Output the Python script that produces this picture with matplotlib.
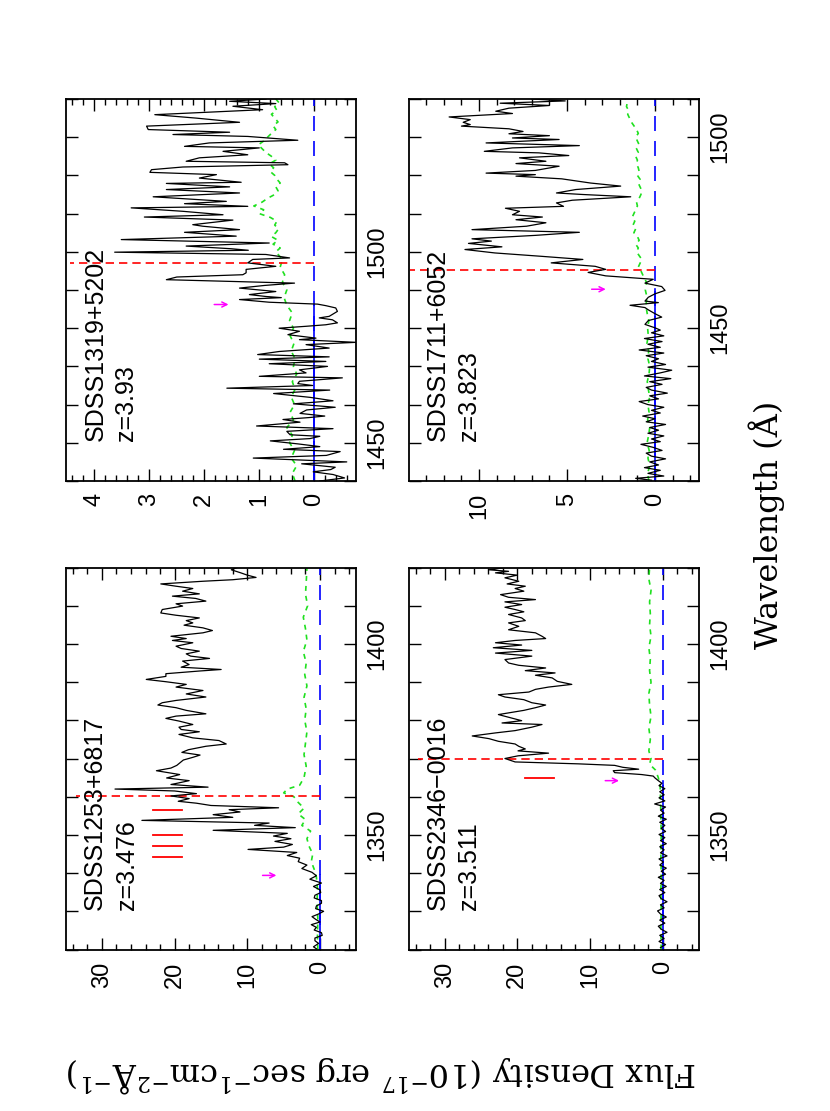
import numpy as np
import matplotlib
matplotlib.use("Agg")
import matplotlib.pyplot as plt
from matplotlib.ticker import MultipleLocator

plt.rcParams['font.family'] = ['Liberation Sans', 'DejaVu Sans']
plt.rcParams['mathtext.fontset'] = 'dejavuserif'

# ---------------- data ----------------
# SDSS1319+5202 (z=3.93)
q1319_wave = [1440.0, 1440.8, 1441.7, 1442.4, 1443.0, 1443.6, 1444.5, 1445.0, 1446.0, 1446.7,
              1447.7, 1448.3, 1449.0, 1449.7, 1450.5, 1451.1, 1451.7, 1452.1, 1453.0, 1453.7,
              1454.4, 1455.4, 1456.1, 1456.6, 1457.0, 1457.7, 1458.6, 1459.3, 1460.2, 1461.0,
              1461.9, 1462.9, 1463.8, 1464.3, 1465.0, 1465.5, 1466.1, 1467.0, 1467.4, 1468.3,
              1469.1, 1470.0, 1470.7, 1471.3, 1471.9, 1472.5, 1473.1, 1473.9, 1474.8, 1475.7,
              1476.3, 1477.0, 1477.4, 1478.3, 1479.2, 1480.0, 1480.5, 1480.9, 1481.4, 1482.2,
              1482.7, 1483.1, 1484.4, 1485.3, 1485.9, 1486.3, 1486.8, 1487.5, 1488.0, 1488.3,
              1488.8, 1489.6, 1490.5, 1491.2, 1491.8, 1492.7, 1493.4, 1494.0, 1494.5, 1495.4,
              1496.2, 1497.1, 1498.0, 1498.4, 1499.3, 1499.9, 1500.4, 1500.8, 1501.5, 1502.3,
              1503.2, 1504.1, 1505.1, 1505.8, 1506.7, 1507.1, 1508.3, 1509.1, 1509.7, 1510.6,
              1511.5, 1511.9, 1512.6, 1513.2, 1514.4, 1515.4, 1516.3, 1517.0, 1517.9, 1518.2,
              1519.3, 1520.2, 1520.8, 1521.5, 1522.2, 1522.8, 1523.3, 1523.7, 1524.6, 1525.4,
              1526.3, 1527.2, 1527.6, 1528.5, 1529.2, 1530.2, 1530.7, 1531.3, 1532.0, 1532.9,
              1533.9, 1535.0, 1535.9, 1537.2, 1538.1, 1538.8, 1539.4, 1540.0]
q1319_flux = [-0.10, -0.55, -0.34, 0.02, -0.30, -0.38, 0.23, -0.59, 1.11, -0.22,
              -0.47, 0.56, -0.10, 0.29, 0.80, 0.08, -0.10, 0.44, 0.50, -0.34,
              1.05, 0.26, 0.57, 0.10, -0.19, 0.26, 0.14, -0.38, 0.38, -0.34,
              0.08, 0.74, -0.28, 1.59, 0.03, 0.30, 0.27, -0.51, 1.00, 0.15,
              0.27, -0.24, 0.82, -0.21, 1.00, -0.27, 1.03, 0.64, -0.27, 0.15,
              -0.76, 0.27, -0.03, 0.48, 0.27, 0.64, 0.15, -0.21, -0.42, -0.33,
              -0.09, -0.27, -0.42, -0.39, -0.21, -0.06, 0.82, 1.36, 0.60, 0.88,
              1.18, 0.70, 1.36, 0.90, 0.36, 2.69, 2.50, 1.30, 1.24, 1.24,
              0.70, 1.21, 1.12, 0.45, 0.88, 3.63, 1.20, 1.51, 2.33, 0.82,
              3.51, 1.42, 2.36, 1.36, 2.03, 2.21, 1.48, 3.09, 1.66, 2.39,
              3.33, 1.21, 2.36, 1.60, 2.93, 1.36, 2.69, 1.54, 2.69, 1.33,
              2.09, 1.78, 2.99, 2.96, 2.39, 0.48, 0.54, 2.33, 2.09, 1.21,
              1.66, 1.00, 2.36, 1.91, 0.30, 1.21, 2.57, 1.54, 3.02, 3.05,
              1.36, 2.15, 2.90, 0.94, 1.48, 0.70, 1.54, 0.88]
q1319_err_wave = [1440, 1442, 1444, 1446, 1448, 1450, 1452, 1454, 1456, 1458, 1460, 1462, 1464,
                  1466, 1468, 1470, 1472, 1474, 1476, 1478, 1480, 1482, 1484, 1486, 1488, 1490,
                  1492, 1494, 1496, 1498, 1500, 1501, 1502, 1503, 1504, 1505, 1506, 1507, 1508,
                  1509, 1510, 1511, 1512, 1513, 1514, 1515, 1516, 1517, 1518, 1519, 1520, 1521,
                  1522, 1523, 1524, 1525, 1526, 1527, 1528, 1529, 1530, 1531, 1532, 1533, 1534,
                  1535, 1536, 1537, 1538, 1539, 1540]
q1319_err = [0.35, 0.40, 0.32, 0.42, 0.36, 0.45, 0.40, 0.50, 0.38, 0.44, 0.36, 0.42, 0.35,
             0.40, 0.32, 0.38, 0.35, 0.42, 0.37, 0.44, 0.38, 0.45, 0.40, 0.50, 0.55, 0.50,
             0.58, 0.54, 0.62, 0.58, 0.70, 0.62, 0.75, 0.66, 0.78, 0.70, 0.65, 0.72, 0.68,
             0.80, 1.00, 0.92, 1.10, 0.95, 0.85, 0.72, 0.66, 0.70, 0.62, 0.68, 0.72, 0.80,
             0.74, 0.82, 0.70, 0.78, 0.88, 0.95, 1.02, 0.92, 0.85, 0.78, 0.70, 0.75, 0.66,
             0.72, 0.78, 0.68, 0.72, 0.64, 0.70]

# SDSS1711+6052 (z=3.823)
q1711_wave = [1410.2, 1410.7, 1411.3, 1412.0, 1412.8, 1413.5, 1414.2, 1415.0, 1415.8, 1416.5,
              1417.3, 1418.0, 1418.8, 1419.6, 1420.3, 1421.0, 1421.8, 1422.5, 1423.3, 1424.0,
              1424.8, 1425.5, 1426.3, 1427.0, 1427.8, 1428.5, 1429.3, 1430.0, 1430.8, 1431.5,
              1432.3, 1433.0, 1433.8, 1434.5, 1435.3, 1436.0, 1436.8, 1437.5, 1438.3, 1439.0,
              1439.8, 1440.5, 1441.3, 1442.0, 1442.8, 1443.5, 1444.3, 1445.0, 1445.8, 1446.5,
              1447.3, 1448.0, 1448.8, 1449.5, 1450.1, 1451.0, 1452.0, 1452.9, 1453.8, 1454.8,
              1455.4, 1456.0, 1456.7, 1457.1, 1458.1, 1459.0, 1459.9, 1460.9, 1461.8, 1462.8,
              1463.7, 1464.6, 1465.4, 1466.2, 1467.1, 1468.0, 1468.8, 1469.7, 1470.6, 1471.3,
              1472.2, 1472.8, 1473.4, 1474.3, 1475.1, 1475.8, 1476.7, 1477.6, 1478.4, 1479.1,
              1479.7, 1480.6, 1481.4, 1481.9, 1482.8, 1483.5, 1484.4, 1485.0, 1485.4, 1486.3,
              1487.2, 1488.0, 1489.1, 1489.8, 1490.2, 1490.6, 1491.3, 1492.4, 1493.1, 1493.7,
              1494.6, 1495.2, 1495.9, 1496.3, 1497.2, 1497.8, 1498.5, 1499.4, 1499.8, 1500.4,
              1500.9, 1501.5, 1502.2, 1502.9, 1503.3, 1503.9, 1504.6, 1505.3, 1506.2, 1506.8,
              1507.6, 1508.3, 1508.9, 1509.5, 1510.0]
q1711_flux = [0.2, 1.1, -0.5, 0.4, -0.3, 0.6, -0.2, 0.3, -0.6, 0.2,
              0.5, -0.4, 0.1, 0.8, -0.3, 0.2, -0.5, 0.4, -0.2, 0.3,
              -0.6, 0.5, 0.0, 0.7, -0.3, 0.2, -0.5, 0.4, 0.9, -0.2,
              0.3, -0.7, 0.2, 0.5, -0.4, 0.3, -0.9, 0.6, -0.3, -0.95,
              0.4, -0.6, 0.2, -0.2, 0.5, -0.5, 0.9, -0.3, 0.4, -0.4,
              0.6, -0.5, 0.2, -0.3, 0.0, 0.57, 0.38, -0.38, 0.0, 0.38,
              0.57, 1.42, -0.19, 0.57, 0.38, 0.0, -0.57, -0.38, 0.57, 0.10,
              2.8, 3.8, 2.8, 3.4, 5.9, 4.1, 6.4, 9.1, 10.8, 8.7,
              10.6, 9.3, 10.4, 6.8, 4.3, 10.4, 7.3, 6.2, 7.9, 6.4,
              8.1, 7.7, 8.5, 5.2, 5.6, 4.7, 1.38, 4.1, 5.6, 4.5,
              1.95, 3.66, 5.3, 7.9, 6.8, 9.6, 6.8, 5.45, 7.9, 6.2,
              7.7, 4.9, 6.6, 9.7, 8.1, 4.3, 9.6, 5.45, 8.1, 6.0,
              8.3, 7.5, 8.3, 11.0, 10.5, 10.9, 10.5, 11.7, 8.1, 9.05,
              8.3, 6.0, 8.8, 5.1, 7.0]
q1711_err_wave = [1410, 1412, 1414, 1416, 1418, 1420, 1422, 1424, 1426, 1428, 1430, 1432, 1434,
                  1436, 1438, 1440, 1442, 1444, 1446, 1448, 1450, 1452, 1454, 1456, 1458, 1460,
                  1462, 1463, 1464, 1465, 1466, 1467, 1468, 1469, 1470, 1471, 1472, 1473, 1474,
                  1475, 1476, 1477, 1478, 1479, 1480, 1481, 1482, 1483, 1484, 1485, 1486, 1487,
                  1488, 1489, 1490, 1491, 1492, 1493, 1494, 1495, 1496, 1497, 1498, 1499, 1500,
                  1501, 1502, 1503, 1504, 1505, 1506, 1507, 1508, 1509, 1510]
q1711_err = [0.35, 0.42, 0.30, 0.40, 0.33, 0.45, 0.36, 0.30, 0.42, 0.34, 0.40, 0.30, 0.38,
             0.44, 0.34, 0.30, 0.40, 0.36, 0.46, 0.38, 0.42, 0.35, 0.45, 0.52, 0.45, 0.55,
             0.48, 0.60, 0.70, 0.80, 0.95, 0.85, 0.75, 0.90, 1.05, 0.95, 1.10, 0.90, 1.00,
             1.20, 1.10, 1.25, 1.15, 1.30, 1.20, 1.10, 1.00, 1.05, 0.90, 0.80, 0.75, 0.85,
             0.95, 0.85, 1.00, 0.90, 0.95, 1.05, 1.00, 1.10, 0.95, 1.05, 0.90, 1.00, 1.10,
             0.95, 1.05, 1.20, 1.35, 1.45, 1.55, 1.50, 1.62, 1.58, 1.68]

# SDSS1253+6817 (z=3.476)
q1253_wave = [1320.2, 1320.7, 1321.6, 1322.3, 1323.0, 1323.7, 1324.4, 1325.1, 1325.8, 1326.5,
              1327.2, 1327.9, 1328.6, 1329.3, 1330.0, 1330.7, 1331.4, 1332.1, 1332.8, 1333.5,
              1334.2, 1334.9, 1335.6, 1336.5, 1337.4, 1338.4, 1339.3, 1340.2, 1341.2, 1342.1,
              1343.0, 1343.9, 1344.6, 1345.4, 1346.2, 1346.8, 1347.5, 1348.3, 1349.0, 1349.7,
              1350.4, 1351.2, 1351.9, 1352.5, 1353.1, 1353.8, 1354.6, 1355.3, 1356.0, 1356.6,
              1357.1, 1357.7, 1358.3, 1358.8, 1359.5, 1360.2, 1360.8, 1361.5, 1362.0, 1362.5,
              1363.2, 1363.5, 1364.2, 1364.9, 1365.8, 1366.8, 1367.5, 1368.2, 1369.6, 1370.3,
              1370.9, 1371.6, 1372.3, 1373.2, 1373.8, 1374.7, 1375.4, 1376.3, 1377.0, 1377.6,
              1378.2, 1378.9, 1379.8, 1380.5, 1381.1, 1381.7, 1382.6, 1383.3, 1384.0, 1384.6,
              1385.2, 1386.1, 1386.9, 1387.8, 1388.7, 1389.4, 1390.1, 1390.7, 1391.5, 1392.2,
              1392.9, 1393.3, 1393.9, 1394.6, 1395.5, 1396.2, 1396.8, 1397.4, 1398.1, 1398.8,
              1399.4, 1400.3, 1400.9, 1401.4, 1402.0, 1402.9, 1403.5, 1404.2, 1404.9, 1405.5,
              1406.1, 1406.8, 1407.5, 1408.1, 1409.0, 1409.9, 1410.5, 1411.2, 1411.9, 1412.5,
              1413.1, 1413.8, 1414.5, 1415.1, 1415.7, 1416.4, 1416.8, 1417.4, 1418.0, 1418.6,
              1419.4, 1419.9]
q1253_flux = [0.5, 0.9, 0.2, 0.7, 0.7, -0.3, -0.2, 0.8, 0.5, 1.2,
              0.0, 0.6, 1.1, 0.2, -0.5, 0.6, 0.5, -0.2, -0.2, 0.8,
              0.7, -0.1, 0.0, 0.9, -0.2, 1.4, 0.5, 1.1, 2.5, 1.8,
              3.0, 2.8, 4.5, 3.2, 9.9, 5.0, 3.8, 6.2, 4.0, 6.4,
              4.5, 14.7, 3.4, 9.0, 7.0, 24.5, 12.0, 14.7, 11.0, 12.5,
              5.7, 15.0, 17.0, 19.5, 18.0, 20.5, 17.0, 20.0, 28.2, 15.4,
              20.5, 19.7, 18.0, 21.1, 19.3, 22.5, 20.5, 19.7, 18.8, 17.5,
              16.5, 19.0, 18.1, 15.7, 12.9, 13.9, 17.5, 19.4, 16.6, 19.1,
              19.4, 17.5, 19.4, 21.2, 19.8, 15.7, 18.4, 19.8, 22.3, 21.7,
              19.8, 15.7, 18.4, 16.1, 19.8, 18.4, 21.2, 23.9, 21.2, 21.2,
              16.6, 13.6, 19.1, 18.0, 18.9, 15.2, 17.8, 18.4, 16.6, 19.1,
              19.8, 17.5, 20.3, 18.4, 20.5, 16.1, 14.8, 16.1, 18.7, 17.5,
              18.4, 16.6, 19.8, 21.9, 21.7, 18.9, 19.8, 15.7, 17.1, 20.3,
              16.6, 18.9, 17.5, 19.8, 21.9, 16.1, 12.0, 8.8, 10.0, 10.9,
              12.2, 11.5]
q1253_err_wave = [1320, 1324, 1328, 1332, 1336, 1339, 1341, 1343, 1345, 1347, 1349, 1351, 1352.5,
                  1354, 1355.5, 1357, 1358.5, 1360, 1361, 1362, 1363, 1365, 1368, 1371, 1374,
                  1377, 1380, 1383, 1386, 1389, 1392, 1395, 1398, 1401, 1404, 1407, 1410, 1413,
                  1416, 1420]
q1253_err = [0.3, 0.35, 0.3, 0.4, 0.35, 0.5, 0.8, 1.2, 1.0, 1.5, 1.8, 1.3, 2.5,
             2.0, 3.0, 2.2, 3.0, 3.6, 5.0, 4.5, 2.8, 2.2, 1.9, 2.2, 2.0,
             1.8, 2.1, 1.9, 2.2, 1.8, 2.1, 1.9, 2.3, 1.8, 2.0, 2.3, 1.7, 2.0,
             1.9, 1.8]

# SDSS2346-0016 (z=3.511)
q2346_wave = [1320.5, 1321.3, 1322.1, 1322.9, 1323.7, 1324.5, 1325.3, 1326.1, 1326.9, 1327.7,
              1328.5, 1329.3, 1330.1, 1330.9, 1331.7, 1332.5, 1333.3, 1334.1, 1334.9, 1335.7,
              1336.5, 1337.3, 1338.1, 1338.9, 1339.7, 1340.5, 1341.3, 1342.1, 1342.9, 1343.7,
              1344.5, 1345.3, 1346.1, 1346.9, 1347.7, 1348.5, 1349.3, 1350.1, 1350.9, 1351.7,
              1352.5, 1353.3, 1354.1, 1354.9, 1355.7, 1356.5, 1357.3, 1358.1, 1358.9, 1359.7,
              1360.5, 1361.3, 1362.1, 1362.9, 1363.5, 1364.2, 1364.9, 1365.4, 1365.8, 1366.3,
              1366.8, 1367.2, 1367.7, 1368.2, 1368.6, 1369.1, 1370.0, 1370.7, 1371.4, 1372.0,
              1372.5, 1373.2, 1373.8, 1374.5, 1375.2, 1375.9, 1376.7, 1377.3, 1378.2, 1378.9,
              1379.3, 1379.9, 1380.8, 1381.5, 1382.6, 1383.3, 1384.0, 1384.6, 1385.4, 1386.1,
              1386.7, 1387.4, 1388.1, 1388.7, 1389.4, 1390.2, 1391.1, 1391.8, 1392.4, 1393.0,
              1393.7, 1394.4, 1395.0, 1395.9, 1396.8, 1397.6, 1398.3, 1399.0, 1399.7, 1400.3,
              1400.9, 1401.4, 1402.0, 1402.9, 1403.7, 1404.6, 1405.5, 1406.1, 1406.8, 1407.7,
              1408.4, 1409.0, 1409.6, 1410.3, 1411.0, 1411.6, 1412.2, 1412.9, 1413.8, 1414.5,
              1415.1, 1415.7, 1416.4, 1417.3, 1418.0, 1418.6, 1419.0, 1419.4, 1419.9]
q2346_flux = [0.3, -0.4, 0.5, -0.2, 0.4, -0.6, 0.2, 0.6, -0.3, 0.4,
              -0.5, 0.3, 0.7, -0.2, 0.3, -0.6, 0.2, 0.5, -0.3, 0.4,
              -0.5, 0.3, -0.2, 0.6, -0.4, 0.2, -0.5, 0.4, -0.1, 0.5,
              -0.6, 0.3, -0.2, 0.4, -0.5, 0.3, -0.3, 0.5, -0.4, 0.2,
              -0.3, 0.4, -0.5, 0.6, -0.2, 0.3, -0.4, 1.1, -0.3, 0.5,
              -0.2, 0.4, -0.3, 0.5, 0.1, 0.6, 1.05, 1.3, 2.9, 6.6,
              6.8, 3.3, 5.5, 6.6, 11.6, 20.3, 21.7, 19.9, 15.7, 19.9,
              18.9, 19.8, 20.3, 22.6, 23.9, 26.2, 23.0, 20.3, 18.0, 16.6,
              22.1, 19.4, 21.2, 22.6, 19.1, 17.5, 16.1, 18.0, 19.1, 21.7,
              22.6, 18.4, 17.5, 15.7, 12.5, 14.5, 15.2, 17.5, 14.8, 18.9,
              16.1, 19.8, 21.2, 21.7, 18.0, 23.0, 18.0, 23.3, 19.4, 23.0,
              20.3, 16.1, 16.6, 17.5, 21.2, 19.8, 21.2, 18.9, 19.4, 21.2,
              19.1, 20.3, 21.7, 19.4, 21.7, 17.5, 21.2, 22.3, 19.1, 20.3,
              18.9, 21.4, 19.8, 21.7, 20.0, 23.0, 21.2, 23.9, 22.0]
q2346_err_wave = [1320, 1325, 1330, 1335, 1340, 1345, 1350, 1355, 1360, 1363, 1365, 1367, 1368.5,
                  1370, 1372, 1375, 1378, 1381, 1384, 1387, 1390, 1393, 1396, 1399, 1402, 1405,
                  1408, 1411, 1414, 1417, 1420]
q2346_err = [0.2, 0.25, 0.2, 0.25, 0.2, 0.25, 0.2, 0.25, 0.3, 0.35, 0.6, 1.0, 1.8,
             1.6, 1.9, 1.7, 1.9, 1.6, 1.8, 1.9, 1.6, 1.8, 1.7, 1.9, 1.6, 1.8,
             1.7, 1.8, 1.6, 1.9, 1.8]

names = ["SDSS1319+5202", "SDSS1711+6052", "SDSS1253+6817", "SDSS2346\u22120016"]
redshifts = ["z=3.93", "z=3.823", "z=3.476", "z=3.511"]
lya_wave = [1497.1, 1465.2, 1360.2, 1370.0]          # red dashed marker
arrow_wave = [1486.2, 1460.2, 1339.4, 1364.2]        # magenta arrow / end of solid zero line
arrow_flux = [(1.82, 1.56), (3.6, 2.8), (7.9, 6.0), (7.9, 6.0)]
q1253_lines = [1344.2, 1347.2, 1349.9, 1356.4]
q2346_lines = [1365.0]
line_flux = (19.0, 23.0)
line_flux_2346 = (15.0, 18.9)

# ---------------- layout ----------------
W, H = 830, 1111
fig = plt.figure(figsize=(W / 100, H / 100), dpi=100)


def rect(x0, ytop, w=290, h=382):
    return [x0 / W, (H - ytop - h) / H, w / W, h / H]


panels = [
    dict(rect=rect(66, 99), wave=q1319_wave, flux=q1319_flux, ew=q1319_err_wave, err=q1319_err,
         xlim=(4.515, -0.758), ylim=(1440, 1540), xmaj=1, xmin=0.2, lyatop=4.45,
         name_pos=(3.98, 1450.6), z_pos=(3.43, 1450.6), lines=None),
    dict(rect=rect(409, 99), wave=q1711_wave, flux=q1711_flux, ew=q1711_err_wave, err=q1711_err,
         xlim=(13.98, -2.5), ylim=(1410, 1510), xmaj=5, xmin=1, lyatop=13.9,
         name_pos=(12.33, 1420.6), z_pos=(10.57, 1420.6), lines=None),
    dict(rect=rect(66, 567.5), wave=q1253_wave, flux=q1253_flux, ew=q1253_err_wave, err=q1253_err,
         xlim=(34.94, -4.95), ylim=(1320, 1420), xmaj=10, xmin=2, lyatop=33.6,
         name_pos=(30.95, 1330.4), z_pos=(26.6, 1330.4), lines=(q1253_lines, line_flux)),
    dict(rect=rect(409, 567.5), wave=q2346_wave, flux=q2346_flux, ew=q2346_err_wave, err=q2346_err,
         xlim=(34.9, -5.0), ylim=(1320, 1420), xmaj=10, xmin=2, lyatop=33.6,
         name_pos=(30.95, 1330.4), z_pos=(26.6, 1330.4), lines=(q2346_lines, line_flux_2346)),
]

for i, p in enumerate(panels):
    ax = fig.add_axes(p['rect'])
    ax.plot(p['flux'], p['wave'], color='black', lw=0.9, zorder=3)
    ax.plot(p['err'], p['ew'], color='#1fe01f', lw=1.2, dashes=(3, 3), zorder=2)
    # zero line: long dashes everywhere, solid below the marked onset
    ax.axvline(0, color='#0000ff', lw=1.2, dashes=(9, 6), zorder=2.5)
    ax.plot([0, 0], [p['ylim'][0], arrow_wave[i]], color='#0000ff', lw=1.2, zorder=2.5)
    ax.plot([0, p['lyatop']], [lya_wave[i], lya_wave[i]], color='#ff0000', lw=1.2,
            dashes=(5, 3), zorder=2.6)
    if p['lines'] is not None:
        lw_list, fr = p['lines']
        for w in lw_list:
            ax.plot(fr, [w, w], color='#ff0000', lw=1.3, zorder=2.6)
    a0, a1 = arrow_flux[i]
    ax.annotate('', xy=(a1, arrow_wave[i]), xytext=(a0, arrow_wave[i]),
                arrowprops=dict(arrowstyle='->', color='#ff00ff', lw=1.1,
                                shrinkA=0, shrinkB=0, mutation_scale=9))
    ax.text(p['name_pos'][0], p['name_pos'][1], names[i], rotation=90, ha='center',
            va='bottom', fontsize=18, zorder=5)
    ax.text(p['z_pos'][0], p['z_pos'][1], redshifts[i], rotation=90, ha='center',
            va='bottom', fontsize=18, zorder=5)

    ax.set_xlim(*p['xlim'])
    ax.set_ylim(*p['ylim'])
    ax.xaxis.set_major_locator(MultipleLocator(p['xmaj']))
    ax.xaxis.set_minor_locator(MultipleLocator(p['xmin']))
    ax.yaxis.set_major_locator(MultipleLocator(50))
    ax.yaxis.set_minor_locator(MultipleLocator(10))
    ax.xaxis.set_major_formatter(plt.FuncFormatter(lambda v, pos: '%d' % round(v)))
    ax.tick_params(axis='both', which='both', direction='in', top=True, bottom=True,
                   left=True, right=True, labelleft=False, labelright=True,
                   labelbottom=True, labeltop=False, width=1.0, colors='black')
    ax.tick_params(axis='x', which='major', length=8.5, labelrotation=90, pad=8.5,
                   labelsize=17)
    ax.tick_params(axis='x', which='minor', length=4.3)
    ax.tick_params(axis='y', which='both', length=8.5)
    ax.tick_params(axis='y', which='major', labelrotation=90, pad=7.5, labelsize=17)
    for t in ax.yaxis.get_major_ticks():
        t.label2.set_verticalalignment('center')
        t.label1.set_verticalalignment('center')
    for s in ax.spines.values():
        s.set_linewidth(1.3)

fig.text(767 / W, 1 - 525 / H, 'Wavelength (\u00c5)', rotation=90, ha='center', va='center',
         fontsize=23, family='DejaVu Serif')
fig.text(382.5 / W, 1 - 1075 / H,
         'Flux Density (10$^{-17}$ erg sec$^{-1}$cm$^{-2}$\u00c5$^{-1}$)',
         rotation=180, ha='center', va='center', fontsize=23, family='DejaVu Serif')

fig.savefig('out.png', dpi=100)
